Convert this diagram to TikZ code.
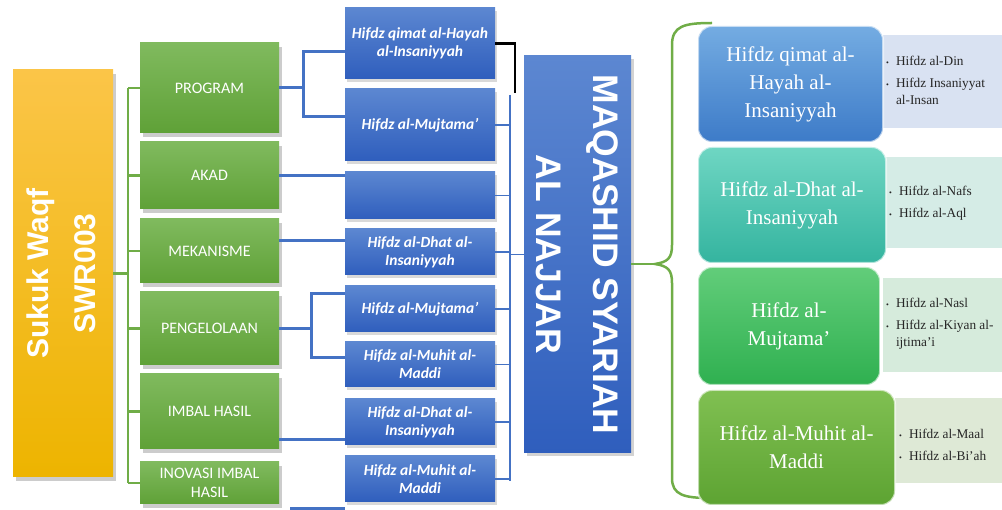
\documentclass[tikz,border=0pt]{standalone}
\usepackage{fontspec}
\setmainfont{Liberation Serif}
\newfontfamily\calfont{Carlito}
\newfontfamily\arfont{Liberation Sans}
\usetikzlibrary{shadows}
\definecolor{yelTop}{HTML}{FBC548}
\definecolor{yelBot}{HTML}{EDB400}
\definecolor{grnTop}{HTML}{80BA5E}
\definecolor{grnBot}{HTML}{5FA137}
\definecolor{bluTop}{HTML}{5C87D1}
\definecolor{bluBot}{HTML}{2F5EBD}
\definecolor{treeGrn}{HTML}{70AD47}
\definecolor{lineBlu}{HTML}{4472C4}
\definecolor{rOneTop}{HTML}{74ACE2}
\definecolor{rOneBot}{HTML}{3D7BC8}
\definecolor{rTwoTop}{HTML}{6FD6C3}
\definecolor{rTwoBot}{HTML}{34B49F}
\definecolor{rThrTop}{HTML}{62CD7A}
\definecolor{rThrBot}{HTML}{2FB050}
\definecolor{rFouTop}{HTML}{80C052}
\definecolor{rFouBot}{HTML}{5DA332}
\definecolor{panOne}{HTML}{D9E2F2}
\definecolor{panTwo}{HTML}{D5ECE6}
\definecolor{panThr}{HTML}{D6EBDC}
\definecolor{panFou}{HTML}{DEE9D6}
\tikzset{
  shade/.style={drop shadow={opacity=.4,shadow xshift=3pt,shadow yshift=-4pt}},
  yelbox/.style={top color=yelTop,bottom color=yelBot,minimum width=100,minimum height=407,shade},
  grnbox/.style={top color=grnTop,bottom color=grnBot,minimum width=139,align=center,
    text=white,font=\calfont\fontsize{16}{19}\selectfont,shade},
  blubox/.style={top color=bluTop,bottom color=bluBot,minimum width=150,align=center,
    text=white,font=\calfont\bfseries\itshape\fontsize{15.5}{18}\selectfont,
    drop shadow={opacity=.3,shadow xshift=2pt,shadow yshift=-3pt}},
  rbox/.style={rounded corners=14pt,draw=white,draw opacity=.6,line width=2,align=center,
    text=white,font=\fontsize{21}{28}\selectfont},
  panel/.style={anchor=north west,inner sep=0pt},
  blist/.style={anchor=west,inner sep=0pt,text=black!85,font=\fontsize{13.3}{17}\selectfont},
  gline/.style={treeGrn,line width=2.5},
  bline/.style={lineBlu,line width=3},
}
\newcommand{\itm}{{\footnotesize\textbullet}}
\begin{document}
\begin{tikzpicture}[x=1pt,y=-1pt]
\useasboundingbox (0,0) rectangle (1002,510);

% left column
\node[yelbox] (yel) at (63,273.5) {};
\node[rotate=90,align=center,text=white,font=\arfont\bfseries\fontsize{30}{47}\selectfont] (yeltxt) at ([xshift=-2]yel.center) {Sukuk Waqf\\SWR003};

\foreach \n/\y/\h/\t in {prog/88/90/PROGRAM, akad/175.5/67/AKAD, mek/251/64/MEKANISME,
    peng/328.5/73/PENGELOLAAN, imbal/411.5/75/IMBAL HASIL, inov/483/42/{INOVASI IMBAL\\HASIL}}
  \node[grnbox,minimum height=\h] (\n) at (209.5,\y) {\t};

% green tree
\coordinate (trunk) at ([xshift=15]yel.east);
\draw[gline] (yel.east) -- (trunk);
\draw[gline] (trunk |- prog.west) -- (trunk |- inov.west);
\foreach \n in {prog,akad,mek,peng,imbal,inov}
  \draw[gline] (trunk |- \n.west) -- (\n.west);

% middle column
\foreach \n/\y/\h/\t in {b1/43.5/71/{Hifdz qimat al-Hayah\\al-Insaniyyah}, b2/125/72/Hifdz al-Mujtama’,
    b3/195.5/47/{}, b4/252/46/{Hifdz al-Dhat al-\\Insaniyyah}, b5/309/46/Hifdz al-Mujtama’,
    b6/364.5/45/{Hifdz al-Muhit al-\\Maddi}, b7/422/46/{Hifdz al-Dhat al-\\Insaniyyah},
    b8/479/46/{Hifdz al-Muhit al-\\Maddi}}
  \node[blubox,minimum height=\h] (\n) at (420,\y) {\t};

% blue links
\draw[bline] (prog.east) -- ++(24,0) coordinate (pfork);
\draw[bline] ([yshift=-8.5]b1.west) -| (pfork) |- ([yshift=8]b2.west);
\draw[bline] (akad.east) -- (akad.east -| b3.west);
\draw[bline] ([yshift=10]mek.east) coordinate (mk) -- (mk -| b4.west);
\draw[bline] (peng.east) -- ++(32,0) coordinate (qfork);
\draw[bline] ([yshift=15]b5.west) -| (qfork) |- ([yshift=6.5]b6.west);
\draw[bline] ([yshift=-28.5]imbal.east) coordinate (im) -- (im -| b7.west);
\draw[bline] ([xshift=11,yshift=-4]inov.south east) coordinate (io) -- (io -| b8.west);

% big box
\node[top color=bluTop,bottom color=bluBot,minimum width=107,minimum height=397,
  drop shadow={opacity=.35,shadow xshift=3pt,shadow yshift=-3pt}] (big) at (577.5,254.5) {};
\node[rotate=-90,align=center,text=white,font=\arfont\bfseries\fontsize{35.5}{57}\selectfont] (bigtxt) at (big.center) {MAQASHID SYARIAH\\AL NAJJAR};

\draw[line width=2.2] (b1.east) -- ++(20,0) -- ++(0,50);
\coordinate (bus) at (510,95);
\draw[lineBlu,line width=1.6] (bus) -- (510,481);
\foreach \n in {b2,b3,b4,b5,b6,b7,b8}
  \draw[lineBlu,line width=1.3] (\n.east) -- (\n.east -| bus);
\draw[lineBlu,line width=1.6] (big.west -| bus) -- (big.west);

% brace
\coordinate (tip) at (655,264);
\draw[gline] (big.east |- tip) -- (tip);
\draw[gline] (712,23) .. controls (684,23) and (672,26) .. (672,45) -- (672,245)
  .. controls (672,258) and (668,262) .. (tip)
  .. controls (668,266) and (672,270) .. (672,283) -- (672,478)
  .. controls (672,495) and (684,498) .. (710,498);

% right column
\node[panel,fill=panOne,minimum width=119,minimum height=93] (p1) at (883,35) {};
\node[panel,fill=panTwo,minimum width=116,minimum height=91] (p2) at (886,157) {};
\node[panel,fill=panThr,minimum width=119,minimum height=94] (p3) at (883,278) {};
\node[panel,fill=panFou,minimum width=107,minimum height=85] (p4) at (895,398) {};

\node[rbox,top color=rOneTop,bottom color=rOneBot,minimum width=185,minimum height=116] (r1) at (790.5,84) {Hifdz qimat al-\\Hayah al-\\Insaniyyah};
\node[rbox,top color=rTwoTop,bottom color=rTwoBot,minimum width=188,minimum height=116] (r2) at (792,205) {Hifdz al-Dhat al-\\Insaniyyah};
\node[rbox,top color=rThrTop,bottom color=rThrBot,minimum width=182,minimum height=118] (r3) at (789,326) {Hifdz al-\\Mujtama’};
\node[rbox,top color=rFouTop,bottom color=rFouBot,minimum width=197,minimum height=115] (r4) at (796.5,447.5) {Hifdz al-Muhit al-\\Maddi};

\node[blist] (l1) at ([xshift=3]p1.west) {\begin{tabular}{@{}l@{\hspace{7pt}}l@{}}\itm & Hifdz al-Din\\[5pt] \itm & Hifdz Insaniyyat\\ & al-Insan\end{tabular}};
\node[blist] (l2) at ([xshift=3]p2.west) {\begin{tabular}{@{}l@{\hspace{7pt}}l@{}}\itm & Hifdz al-Nafs\\[5pt] \itm & Hifdz al-Aql\end{tabular}};
\node[blist] (l3) at ([xshift=3,yshift=2]p3.west) {\begin{tabular}{@{}l@{\hspace{7pt}}l@{}}\itm & Hifdz al-Nasl\\[5pt] \itm & Hifdz al-Kiyan al-\\ & ijtima’i\end{tabular}};
\node[blist] (l4) at ([xshift=4,yshift=-5]p4.west) {\begin{tabular}{@{}l@{\hspace{7pt}}l@{}}\itm & Hifdz al-Maal\\[5pt] \itm & Hifdz al-Bi’ah\end{tabular}};
\end{tikzpicture}
\end{document}
